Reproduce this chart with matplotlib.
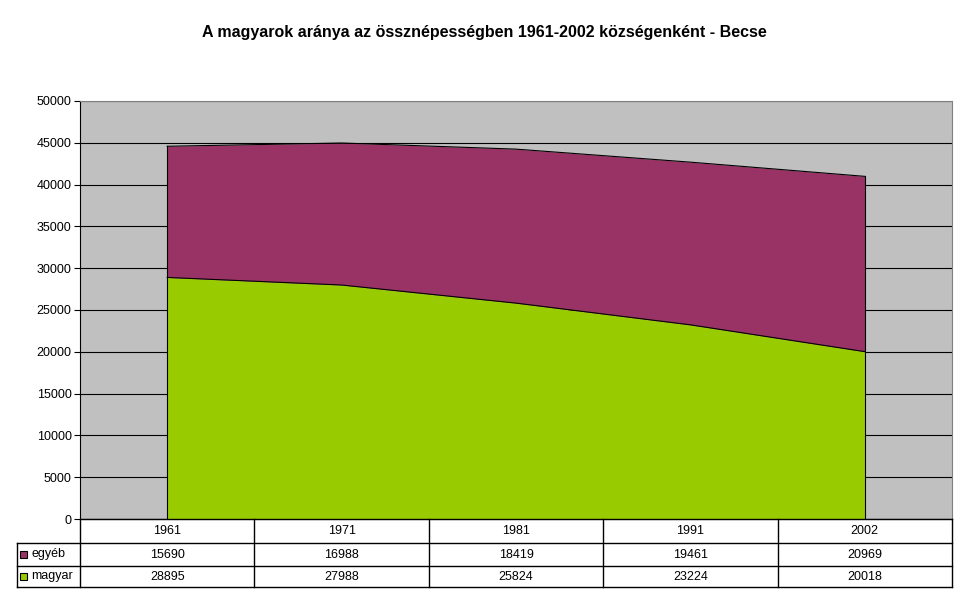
import numpy as np
import matplotlib.pyplot as plt

# Becse, népesség nemzetiség szerint
years = ["1961", "1971", "1981", "1991", "2002"]
egyeb = [15690, 16988, 18419, 19461, 20969]
magyar = [28895, 27988, 25824, 23224, 20018]
series_names = ["egyéb", "magyar"]
series_colors = ["#993366", "#99CC00"]

plt.rcParams['font.family'] = ['Liberation Sans', 'DejaVu Sans']

W, H = 968, 604
fig = plt.figure(figsize=(W / 100, H / 100), dpi=100)

# plot area in pixels
px0, px1, py0, py1 = 80, 952, 101, 519
ax = fig.add_axes([px0 / W, 1 - py1 / H, (px1 - px0) / W, (py1 - py0) / H])
ax.set_facecolor("#C0C0C0")

x = np.arange(len(years))
mag = np.array(magyar)
tot = mag + np.array(egyeb)
ax.fill_between(x, 0, mag, color=series_colors[1], lw=0, zorder=3)
ax.fill_between(x, mag, tot, color=series_colors[0], lw=0, zorder=3)
ax.plot(x, mag, color="black", lw=0.8, zorder=4)
ax.plot(x, tot, color="black", lw=0.8, zorder=4)
ax.plot([x[0], x[0]], [0, tot[0]], color="black", lw=0.8, zorder=4)
ax.plot([x[-1], x[-1]], [0, tot[-1]], color="black", lw=0.8, zorder=4)

ax.set_xlim(-0.5, len(years) - 0.5)
ax.set_ylim(0, 50000)
ax.set_yticks(np.arange(0, 50001, 5000))
ax.tick_params(axis="y", labelsize=9, length=4, width=0.8, pad=2)
ax.set_xticks([])
ax.grid(axis="y", color="black", lw=0.8, zorder=1)
ax.set_axisbelow(True)
for s in ["top", "right", "bottom"]:
    ax.spines[s].set_color("#808080")
    ax.spines[s].set_linewidth(0.8)
ax.spines["left"].set_color("black")
ax.spines["left"].set_linewidth(0.8)

fig.text(0.5, 1 - 32 / H, "A magyarok aránya az össznépességben 1961-2002 községenként - Becse",
         ha="center", va="center", fontsize=11.5, fontweight="bold")

# data table underneath
t = fig.add_axes([0, 0, 1, 1])
t.set_xlim(0, W)
t.set_ylim(H, 0)
t.axis("off")
cw = (px1 - px0) / len(years)
rows = [519, 543, 566, 587]
lx = 17
lk = dict(color="black", lw=1)
t.plot([px0, px1], [rows[0], rows[0]], **lk)
for r in rows[1:]:
    t.plot([lx, px1], [r, r], **lk)
t.plot([lx, lx], [rows[1], rows[3]], **lk)
for i in range(len(years) + 1):
    t.plot([px0 + i * cw, px0 + i * cw], [rows[0], rows[3]], **lk)

for i, yr in enumerate(years):
    cx = px0 + (i + 0.5) * cw
    t.text(cx, (rows[0] + rows[1]) / 2, yr, ha="center", va="center", fontsize=9)
    t.text(cx, (rows[1] + rows[2]) / 2, str(egyeb[i]), ha="center", va="center", fontsize=9)
    t.text(cx, (rows[2] + rows[3]) / 2, str(magyar[i]), ha="center", va="center", fontsize=9)

for j, (name, col) in enumerate(zip(series_names, series_colors)):
    cy = (rows[j + 1] + rows[j + 2]) / 2
    t.add_patch(plt.Rectangle((20, cy - 3.5), 7, 7, facecolor=col, edgecolor="black", lw=0.8))
    t.text(31, cy, name, ha="left", va="center", fontsize=9)

fig.savefig("out.png", dpi=100)
